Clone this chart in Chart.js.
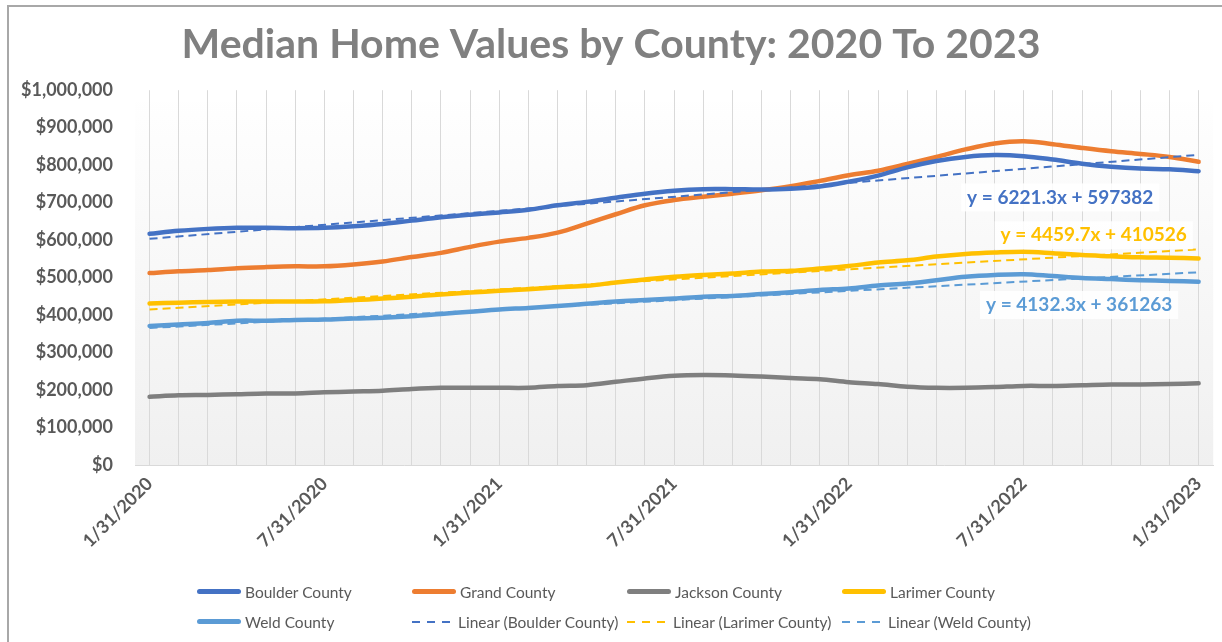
<!DOCTYPE html>
<html>
<head>
<meta charset="utf-8">
<title>Median Home Values by County: 2020 To 2023</title>
<script src="https://cdn.jsdelivr.net/npm/chart.js@4"></script>
<style>
  body { margin: 0; background: #fff; }
  #wrap { position: relative; width: 1222px; height: 642px; }
  #legend {
    position: absolute; left: 197px; top: 582px;
    display: grid; grid-template-columns: repeat(4, 215px); row-gap: 11px;
    font: 15.5px Lato, sans-serif; color: #595959;
  }
  .item { display: flex; align-items: center; height: 19px; white-space: nowrap; }
  .swatch { width: 44px; height: 5px; border-radius: 3px; margin-right: 4px; flex: none; }
  .swatch.dash { width: 38px; height: 2px; border-radius: 0; margin-right: 8px; }
</style>
</head>
<body>
<div id="wrap">
  <canvas id="homeChart" width="1222" height="642"></canvas>
  <div id="legend"></div>
</div>
<script>
'use strict';

// month-end dates, 1/31/2020 -> 1/31/2023
var months = [
  '1/31/2020', '2/29/2020', '3/31/2020', '4/30/2020', '5/31/2020', '6/30/2020',
  '7/31/2020', '8/31/2020', '9/30/2020', '10/31/2020', '11/30/2020', '12/31/2020',
  '1/31/2021', '2/28/2021', '3/31/2021', '4/30/2021', '5/31/2021', '6/30/2021',
  '7/31/2021', '8/31/2021', '9/30/2021', '10/31/2021', '11/30/2021', '12/31/2021',
  '1/31/2022', '2/28/2022', '3/31/2022', '4/30/2022', '5/31/2022', '6/30/2022',
  '7/31/2022', '8/31/2022', '9/30/2022', '10/31/2022', '11/30/2022', '12/31/2022',
  '1/31/2023'
];

var boulder = [
  617000, 625000, 630000, 633000, 633000, 632000, 633000, 637000, 643000, 652000, 661000, 668000,
  674000, 681000, 693000, 702000, 713000, 724000, 732000, 736000, 736000, 735000, 737000, 743000,
  756000, 772000, 794000, 811000, 822000, 827000, 824000, 815000, 804000, 796000, 791000, 789000,
  784000
];
var grand = [
  512000, 517000, 520000, 525000, 528000, 530000, 530000, 535000, 543000, 555000, 566000, 582000,
  596000, 606000, 620000, 644000, 669000, 693000, 707000, 716000, 724000, 733000, 744000, 758000,
  773000, 785000, 803000, 822000, 842000, 858000, 864000, 856000, 846000, 837000, 830000, 822000,
  809000
];
var jackson = [
  182000, 186000, 187000, 189000, 191000, 191000, 194000, 196000, 198000, 203000, 206000, 206000,
  206000, 206000, 211000, 213000, 222000, 231000, 238000, 240000, 239000, 236000, 232000, 229000,
  221000, 216000, 209000, 206000, 206000, 208000, 211000, 211000, 213000, 215000, 215000, 216000,
  218000
];
var larimer = [
  431000, 433000, 435000, 436000, 436000, 436000, 437000, 440000, 444000, 449000, 455000, 460000,
  465000, 469000, 474000, 478000, 487000, 495000, 502000, 507000, 511000, 516000, 518000, 524000,
  531000, 540000, 546000, 556000, 563000, 567000, 569000, 565000, 560000, 557000, 554000, 553000,
  551000
];
var weld = [
  371000, 375000, 379000, 385000, 385000, 387000, 388000, 391000, 393000, 397000, 403000, 409000,
  415000, 419000, 424000, 430000, 436000, 440000, 444000, 449000, 451000, 456000, 461000, 467000,
  471000, 479000, 484000, 493000, 502000, 507000, 509000, 504000, 499000, 496000, 493000, 491000,
  489000
];

// linear trendlines: first and last value only
var boulderTrend = [603600, 827600];
var larimerTrend = [415000, 575500];
var weldTrend = [365400, 514200];

var equations = ['y = 6221.3x + 597382', 'y = 4459.7x + 410526', 'y = 4132.3x + 361263'];

var colors = {
  boulder: '#4472C4',
  grand: '#ED7D31',
  jackson: '#7F7F7F',
  larimer: '#FFC000',
  weld: '#5B9BD5'
};

function endsOnly(pair) {
  var arr = months.map(function () { return null; });
  arr[0] = pair[0];
  arr[arr.length - 1] = pair[1];
  return arr;
}

function seriesSet(label, data, color) {
  return {
    label: label,
    data: data,
    borderColor: color,
    backgroundColor: color,
    borderWidth: 4.5,
    pointRadius: 0,
    tension: 0.35,
    borderCapStyle: 'round',
    borderJoinStyle: 'round',
    order: 1
  };
}

function trendSet(label, pair, color) {
  return {
    label: label,
    data: endsOnly(pair),
    borderColor: color,
    backgroundColor: color,
    borderWidth: 2,
    borderDash: [8, 5],
    pointRadius: 0,
    spanGaps: true,
    tension: 0,
    order: 0,
    isTrend: true
  };
}

// white page, grey frame, shaded plot area
var backdrop = {
  id: 'backdrop',
  beforeDraw: function (chart) {
    var ctx = chart.ctx;
    var a = chart.chartArea;
    ctx.save();
    ctx.fillStyle = '#ffffff';
    ctx.fillRect(0, 0, chart.width, chart.height);
    var g = ctx.createLinearGradient(0, a.top, 0, a.bottom);
    g.addColorStop(0, '#ffffff');
    g.addColorStop(1, '#f0f0f0');
    ctx.fillStyle = g;
    ctx.fillRect(a.left, a.top + 12, a.right - a.left, a.bottom - a.top - 12);
    ctx.strokeStyle = '#a8a8a8';
    ctx.lineWidth = 2;
    ctx.strokeRect(8, 6, chart.width + 20, chart.height + 20);
    ctx.restore();
  }
};

// trendline equation labels
var equationLabels = {
  id: 'equationLabels',
  afterDatasetsDraw: function (chart, args, opts) {
    var ctx = chart.ctx;
    var x = chart.scales.x;
    var y = chart.scales.y;
    ctx.save();
    ctx.font = 'bold 19px Lato, sans-serif';
    ctx.textAlign = 'center';
    ctx.textBaseline = 'middle';
    opts.items.forEach(function (it) {
      var i = Math.floor(it.at);
      var x0 = x.getPixelForValue(i);
      var px = x0 + (it.at - i) * (x.getPixelForValue(i + 1) - x0);
      var py = y.getPixelForValue(it.value);
      var w = ctx.measureText(it.text).width;
      ctx.fillStyle = 'rgba(255, 255, 255, 0.85)';
      ctx.fillRect(px - w / 2 - 6, py - 14, w + 12, 28);
      ctx.fillStyle = it.color;
      ctx.fillText(it.text, px, py);
    });
    ctx.restore();
  }
};

var ctx = document.getElementById('homeChart').getContext('2d');
var homeChart = new Chart(ctx, {
  type: 'line',
  data: {
    labels: months,
    datasets: [
      seriesSet('Boulder County', boulder, colors.boulder),
      seriesSet('Grand County', grand, colors.grand),
      seriesSet('Jackson County', jackson, colors.jackson),
      seriesSet('Larimer County', larimer, colors.larimer),
      seriesSet('Weld County', weld, colors.weld),
      trendSet('Linear (Boulder County)', boulderTrend, colors.boulder),
      trendSet('Linear (Larimer County)', larimerTrend, colors.larimer),
      trendSet('Linear (Weld County)', weldTrend, colors.weld)
    ]
  },
  options: {
    responsive: false,
    animation: false,
    devicePixelRatio: 1,
    layout: { padding: { left: 8, right: 8, top: 0, bottom: 0 } },
    plugins: {
      legend: { display: false },
      tooltip: { enabled: false },
      title: {
        display: true,
        text: 'Median Home Values by County: 2020 To 2023',
        color: '#808080',
        font: { family: 'Lato', size: 41, weight: 'bold' },
        padding: { top: 20, bottom: 21 }
      },
      equationLabels: {
        items: [
          { text: equations[0], color: colors.boulder, at: 31.25, value: 714000 },
          { text: equations[1], color: colors.larimer, at: 32.4, value: 613000 },
          { text: equations[2], color: colors.weld, at: 31.9, value: 427000 }
        ]
      }
    },
    scales: {
      x: {
        offset: true,
        grid: { display: true, color: '#d9d9d9', offset: false, drawTicks: false },
        border: { display: true, color: '#d9d9d9' },
        ticks: {
          autoSkip: false,
          minRotation: 45,
          maxRotation: 45,
          padding: 8,
          color: '#595959',
          font: { family: 'Lato', size: 18, weight: 'bold' },
          callback: function (v, i) { return i % 6 === 0 ? months[i] : ''; }
        },
        afterFit: function (s) { s.height = 177; }
      },
      y: {
        min: 0,
        max: 1000000,
        grid: { display: false, drawTicks: false },
        border: { display: false },
        ticks: {
          stepSize: 100000,
          padding: 22,
          color: '#595959',
          font: { family: 'Lato', size: 18, weight: 'bold' },
          callback: function (v) { return '$' + v.toLocaleString('en-US'); }
        },
        afterFit: function (s) { s.width = 127; }
      }
    }
  },
  plugins: [backdrop, equationLabels]
});

// legend in a 4-column grid like the source
var legendEl = document.getElementById('legend');
homeChart.data.datasets.forEach(function (ds) {
  var item = document.createElement('div');
  item.className = 'item';
  var sw = document.createElement('span');
  if (ds.isTrend) {
    sw.className = 'swatch dash';
    sw.style.background = 'repeating-linear-gradient(90deg, ' + ds.borderColor + ' 0 8px, transparent 8px 15px)';
  } else {
    sw.className = 'swatch';
    sw.style.background = ds.borderColor;
  }
  var txt = document.createElement('span');
  txt.textContent = ds.label;
  item.appendChild(sw);
  item.appendChild(txt);
  legendEl.appendChild(item);
});
</script>
</body>
</html>
